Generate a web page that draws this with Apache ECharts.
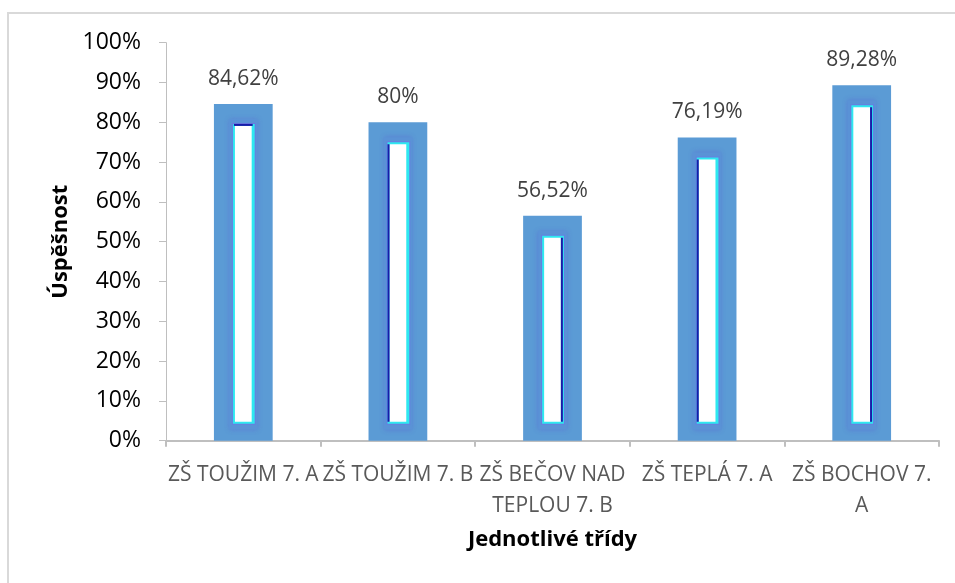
<!DOCTYPE html>
<html>
<head>
<meta charset="utf-8">
<style>
  html, body { margin: 0; padding: 0; background: #fff; }
  #chart { width: 955px; height: 583px; }
</style>
<script src="https://cdn.jsdelivr.net/npm/echarts@6/dist/echarts.min.js"></script>
</head>
<body>
<div id="chart"></div>
<script>
// Školní třídy a jejich úspěšnost (v procentech)
const categories = [
  'ZŠ TOUŽIM 7. A',
  'ZŠ TOUŽIM 7. B',
  'ZŠ BEČOV NAD\nTEPLOU 7. B',
  'ZŠ TEPLÁ 7. A',
  'ZŠ BOCHOV 7.\nA'
];
const successRates = [84.62, 80, 56.52, 76.19, 89.28];
const yTicks = { min: 0, max: 100, interval: 10 };

const FONT = '"Open Sans", "Noto Sans", sans-serif';

function fmtPct(v) {
  return String(v).replace('.', ',') + '%';
}

// Which edge of the inner core gets the dark accent stroke, per column
const accentEdge = ['top', 'left', 'right', 'left', 'right'];

function renderColumn(params, api) {
  const idx = api.value(0);
  const val = api.value(1);
  const topPt = api.coord([idx, val]);
  const basePt = api.coord([idx, 0]);
  const band = api.size([1, 0])[0];
  const w = band * 0.38;
  const x0 = topPt[0] - w / 2;
  const y0 = topPt[1];
  const h = basePt[1] - y0;

  const inset = (l, t, r, b) => ({ x: x0 + l, y: y0 + t, width: w - l - r, height: h - t - b });

  const children = [
    { type: 'rect', shape: { x: x0, y: y0, width: w, height: h }, style: { fill: '#5b9bd5' } },
    { type: 'rect', shape: inset(15, 15, 15, 11),
      style: { fill: '#5a92d6', shadowBlur: 5, shadowColor: 'rgba(90,90,210,0.45)' } },
    { type: 'rect', shape: inset(18, 19, 17, 16), style: { fill: '#6a7ce0' } },
    { type: 'rect', shape: inset(19, 20, 18, 17), style: { fill: '#2ee8f0' } },
    { type: 'rect', shape: inset(21, 22, 21, 19), style: { fill: '#ffffff' } }
  ];

  const core = inset(21, 22, 21, 19);
  const edge = accentEdge[idx];
  let accent;
  if (edge === 'top') accent = { x: core.x - 1, y: core.y - 2, width: core.width + 2, height: 2 };
  else if (edge === 'left') accent = { x: core.x - 2, y: core.y, width: 2, height: core.height };
  else accent = { x: core.x + core.width, y: core.y, width: 2, height: core.height };
  children.push({ type: 'rect', shape: accent, style: { fill: '#1a1aa8' } });

  children.push({
    type: 'text',
    style: {
      x: topPt[0], y: y0 - 25,
      text: fmtPct(val),
      align: 'center', verticalAlign: 'middle',
      font: '21px ' + FONT,
      fill: '#404040'
    }
  });

  return { type: 'group', children };
}

const chart = echarts.init(document.getElementById('chart'), null, { renderer: 'canvas' });

chart.setOption({
  backgroundColor: '#ffffff',
  animation: false,
  textStyle: { fontFamily: FONT },
  graphic: [{
    type: 'rect',
    silent: true,
    shape: { x: 8, y: 13, width: 980, height: 620 },
    style: { fill: 'none', stroke: '#d9d9d9', lineWidth: 2 }
  }],
  grid: {
    left: 166, right: 16, top: 42.7, bottom: 142.3,
    containLabel: false,
    outerBoundsMode: 'none'
  },
  xAxis: {
    type: 'category',
    data: categories,
    name: 'Jednotlivé třídy',
    nameLocation: 'middle',
    nameGap: 88,
    nameTextStyle: { fontSize: 22, fontWeight: 'bold', color: '#000', fontFamily: FONT },
    axisLine: { show: true, lineStyle: { color: '#bfbfbf', width: 2 } },
    axisTick: { show: true, length: 6, lineStyle: { color: '#bfbfbf', width: 2 } },
    axisLabel: {
      interval: 0, margin: 19,
      fontSize: 21, lineHeight: 31, color: '#595959', fontFamily: FONT
    },
    splitLine: { show: false }
  },
  yAxis: {
    type: 'value',
    min: yTicks.min, max: yTicks.max, interval: yTicks.interval,
    name: 'Úspěšnost',
    nameLocation: 'middle',
    nameGap: 94,
    nameTextStyle: { fontSize: 22, fontWeight: 'bold', color: '#000', fontFamily: FONT },
    axisLine: { show: true, lineStyle: { color: '#bfbfbf', width: 1 } },
    axisTick: { show: true, length: 7, lineStyle: { color: '#bfbfbf' } },
    axisLabel: {
      margin: 25, fontSize: 23, color: '#000', fontFamily: FONT,
      formatter: '{value}%'
    },
    splitLine: { show: false }
  },
  series: [{
    type: 'custom',
    renderItem: renderColumn,
    encode: { x: 0, y: 1 },
    data: successRates.map((v, i) => [i, v]),
    clip: false
  }]
});
</script>
</body>
</html>
